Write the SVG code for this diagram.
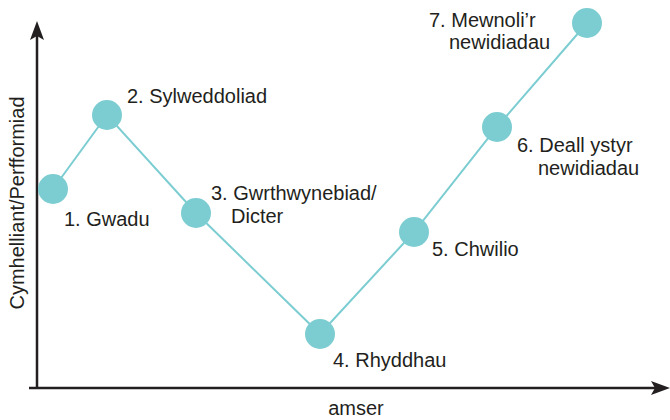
<svg xmlns="http://www.w3.org/2000/svg" width="670" height="420" viewBox="0 0 670 420">
<style>
  .lbl { font-family: "Liberation Sans", Arial, sans-serif; font-size: 20px; fill: #231f20; }
  .node { fill: #7ccdd2; }
  .conn { stroke: #7ccdd2; stroke-width: 2; fill: none; }
  .axis { stroke: #231f20; stroke-width: 2.5; fill: none; }
  .head { fill: #231f20; }
</style>
<rect width="670" height="420" fill="#ffffff"/>
<g id="axes">
  <path class="axis" d="M37,388 V34 M29,388 H658"/>
  <path class="head" d="M37,21 L44,40 L37,36 L30,40 Z"/>
  <path class="head" d="M670,388 L651,395 L655,388 L651,381 Z"/>
  <text class="lbl" transform="translate(24,203) rotate(-90)" text-anchor="middle">Cymhelliant/Perfformiad</text>
  <text class="lbl" x="356" y="415" text-anchor="middle">amser</text>
</g>
<g id="connectors">
  <polyline class="conn" points="53,189 107,115 196,213 320,334 414,232 497,127 587,23"/>
</g>
<g id="n1"><circle class="node" cx="53" cy="189" r="15"/><text class="lbl" x="64" y="226">1. Gwadu</text></g>
<g id="n2"><circle class="node" cx="107" cy="115" r="15"/><text class="lbl" x="127" y="103">2. Sylweddoliad</text></g>
<g id="n3"><circle class="node" cx="196" cy="213" r="15"/><text class="lbl" x="211" y="200">3. Gwrthwynebiad/</text><text class="lbl" x="231" y="223">Dicter</text></g>
<g id="n4"><circle class="node" cx="320" cy="334" r="15"/><text class="lbl" x="333" y="367">4. Rhyddhau</text></g>
<g id="n5"><circle class="node" cx="414" cy="232" r="15"/><text class="lbl" x="432" y="256">5. Chwilio</text></g>
<g id="n6"><circle class="node" cx="497" cy="127" r="15"/><text class="lbl" x="517" y="152">6. Deall ystyr</text><text class="lbl" x="538" y="175">newidiadau</text></g>
<g id="n7"><circle class="node" cx="587" cy="23" r="15"/><text class="lbl" x="429" y="27">7. Mewnoli’r</text><text class="lbl" x="449" y="49">newidiadau</text></g>
</svg>
